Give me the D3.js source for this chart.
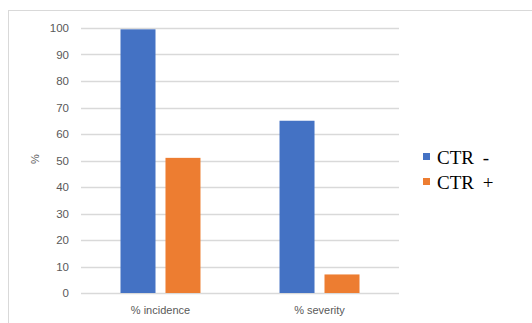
<!DOCTYPE html>
<html><head><meta charset="utf-8">
<script src="https://cdn.jsdelivr.net/npm/d3@7"></script>
<style>html,body{margin:0;padding:0;background:#fff;}</style>
</head><body>
<script>
const categories = ["% incidence", "% severity"];
const seriesNames = ["CTR -", "CTR +"];
const ctrMinus = [99.5, 65];
const ctrPlus = [51, 7];
const yTicks = [0, 10, 20, 30, 40, 50, 60, 70, 80, 90, 100];
const colors = ["#4472C4", "#ED7D31"];

const W = 532, H = 323;
const svg = d3.select("body").append("svg").attr("width", W).attr("height", H);

// outer chart border
svg.append("rect").attr("x", 8.5).attr("y", 10.5).attr("width", 600).attr("height", 400)
  .attr("fill", "none").attr("stroke", "#d9d9d9").attr("stroke-width", 1);

const plotL = 81, plotR = 399, plotT = 28, plotB = 293;
const y = d3.scaleLinear().domain([0, 100]).range([plotB, plotT]);
const x0 = d3.scaleBand().domain(categories).range([plotL, plotR]).paddingInner(0.497).paddingOuter(0.2484);
const x1 = d3.scaleBand().domain(seriesNames).range([0, x0.bandwidth()]).paddingInner(0.222);

// gridlines
svg.append("g").selectAll("line").data(yTicks).join("line")
  .attr("x1", plotL).attr("x2", plotR)
  .attr("y1", d => Math.round(y(d)) + 0.5).attr("y2", d => Math.round(y(d)) + 0.5)
  .attr("stroke", "#d9d9d9").attr("stroke-width", 1.3);

// y axis labels
const yAxis = d3.axisLeft(y).tickValues(yTicks).tickSize(0).tickPadding(0);
const gy = svg.append("g").attr("transform", "translate(69,0)").call(yAxis);
gy.select(".domain").remove();
gy.selectAll("text").attr("fill", "#595959").attr("font-family", "Liberation Sans, Arial, sans-serif").attr("font-size", 11.5);

// x axis labels
const xAxis = d3.axisBottom(x0).tickSize(0).tickPadding(0);
const gx = svg.append("g").attr("transform", "translate(0,306)").call(xAxis);
gx.select(".domain").remove();
gx.selectAll("text").attr("fill", "#595959").attr("font-family", "Liberation Sans, Arial, sans-serif").attr("font-size", 11);

// y title
svg.append("text").attr("transform", "translate(39,159) rotate(-90)")
  .attr("text-anchor", "middle").attr("fill", "#595959")
  .attr("font-family", "Liberation Sans, Arial, sans-serif").attr("font-size", 11).text("%");

// bars
const seriesData = [ctrMinus, ctrPlus];
seriesNames.forEach((s, si) => {
  svg.append("g").selectAll("rect").data(categories).join("rect")
    .attr("x", c => x0(c) + x1(s))
    .attr("y", (c, i) => y(seriesData[si][i]))
    .attr("width", x1.bandwidth())
    .attr("height", (c, i) => y(0) - y(seriesData[si][i]))
    .attr("fill", colors[si]);
});

// legend
const lg = svg.append("g");
seriesNames.forEach((s, i) => {
  const yy = 153 + i * 25;
  lg.append("rect").attr("x", 423).attr("y", yy).attr("width", 7).attr("height", 7).attr("fill", colors[i]);
  lg.append("text").attr("x", 437).attr("y", yy + 11).attr("fill", "#000")
    .attr("font-family", "Liberation Serif, Times New Roman, serif").attr("font-size", 19)
    .attr("word-spacing", 4).text(s);
});
</script>
</body></html>
